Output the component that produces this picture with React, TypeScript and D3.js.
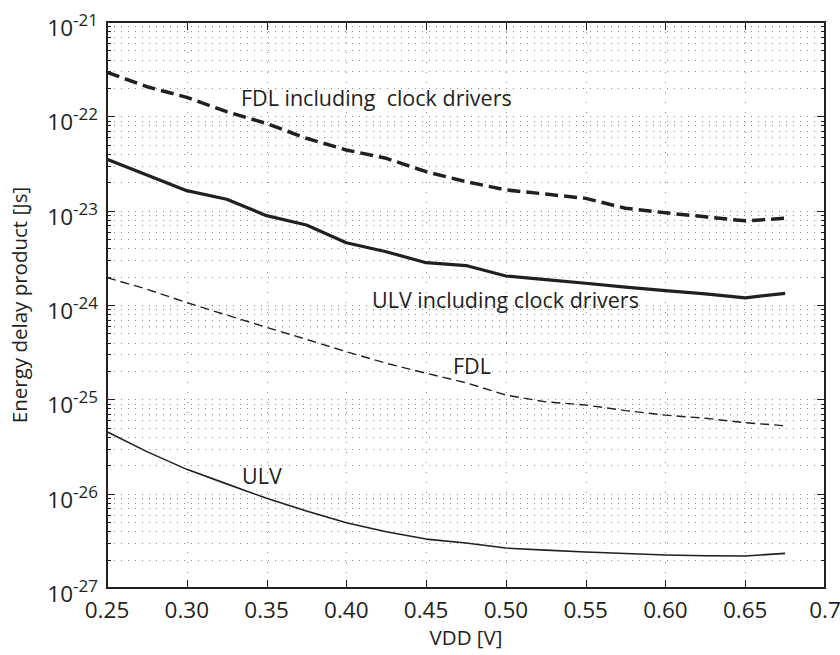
import * as d3 from 'd3';

// supply voltage samples [V]
const vdd = [0.25, 0.275, 0.3, 0.325, 0.35, 0.375, 0.4, 0.425, 0.45, 0.475, 0.5, 0.525, 0.55, 0.575, 0.6, 0.625, 0.65, 0.675];

// energy delay product [Js]
const fdlClock = [2.93e-22, 2.06e-22, 1.59e-22, 1.12e-22, 8.4e-23, 5.85e-23, 4.4e-23, 3.59e-23, 2.59e-23, 2.03e-23, 1.66e-23, 1.5e-23, 1.35e-23, 1.06e-23, 9.5e-24, 8.6e-24, 7.8e-24, 8.3e-24];
const ulvClock = [3.5e-23, 2.39e-23, 1.63e-23, 1.32e-23, 8.85e-24, 7.05e-24, 4.57e-24, 3.67e-24, 2.81e-24, 2.62e-24, 2.03e-24, 1.86e-24, 1.7e-24, 1.55e-24, 1.42e-24, 1.31e-24, 1.19e-24, 1.33e-24];
const fdl = [1.95e-24, 1.47e-24, 1.06e-24, 7.83e-25, 5.8e-25, 4.32e-25, 3.2e-25, 2.41e-25, 1.89e-25, 1.5e-25, 1.11e-25, 9.4e-26, 8.7e-26, 7.6e-26, 6.8e-26, 6.3e-26, 5.65e-26, 5.25e-26];
const ulv = [4.54e-26, 2.79e-26, 1.81e-26, 1.27e-26, 8.93e-27, 6.55e-27, 4.92e-27, 3.95e-27, 3.3e-27, 3.0e-27, 2.65e-27, 2.52e-27, 2.41e-27, 2.32e-27, 2.24e-27, 2.2e-27, 2.18e-27, 2.33e-27];

const xTicks = [0.25, 0.3, 0.35, 0.4, 0.45, 0.5, 0.55, 0.6, 0.65, 0.7];
const xTickLabels = ['0.25', '0.30', '0.35', '0.40', '0.45', '0.50', '0.55', '0.60', '0.65', '0.7'];
const yExponents = [-21, -22, -23, -24, -25, -26, -27];

const W = 840, H = 655;
const left = 107, right = 825, top = 22, bottom = 588;
const font = '"Open Sans", sans-serif';
const ink = '#231f20';

export default function App() {
  const x = d3.scaleLinear().domain([0.25, 0.7]).range([left, right]);
  const y = d3.scaleLog().domain([1e-27, 1e-21]).range([bottom, top]);

  const line = (vals: number[]) =>
    d3.line<number>().x((d, i) => x(vdd[i])).y(d => y(d))(vals) as string;

  // all decade + minor positions
  const logTicks: { v: number; major: boolean }[] = [];
  for (let e = -27; e < -21; e++) {
    for (let m = 1; m < 10; m++) logTicks.push({ v: m * Math.pow(10, e), major: m === 1 });
  }
  logTicks.push({ v: 1e-21, major: true });

  return (
    <svg width={W} height={H} style={{ position: 'absolute', left: 0, top: 0 }} fontFamily={font}>
      <rect width={W} height={H} fill="#fff" />

      {/* grid */}
      <g stroke="#8a8a8a" strokeWidth={1} strokeDasharray="1,6">
        {logTicks.filter(t => t.v > 1e-27 && t.v < 1e-21).map((t, i) => (
          <line key={'h' + i} x1={left} x2={right} y1={Math.round(y(t.v)) + 0.5} y2={Math.round(y(t.v)) + 0.5} />
        ))}
        {xTicks.slice(1, -1).map((t, i) => (
          <line key={'v' + i} x1={Math.round(x(t)) + 0.5} x2={Math.round(x(t)) + 0.5} y1={top} y2={bottom} strokeDasharray="1,9" />
        ))}
      </g>

      {/* ticks */}
      <g stroke={ink} strokeWidth={1}>
        {logTicks.map((t, i) => {
          const yy = Math.round(y(t.v)) + 0.5;
          const len = t.major ? 8 : 4;
          return (
            <g key={'yt' + i}>
              <line x1={left} x2={left + len} y1={yy} y2={yy} />
              <line x1={right} x2={right - len} y1={yy} y2={yy} />
            </g>
          );
        })}
        {xTicks.map((t, i) => {
          const xx = Math.round(x(t)) + 0.5;
          return (
            <g key={'xt' + i}>
              <line x1={xx} x2={xx} y1={bottom} y2={bottom - 8} />
              <line x1={xx} x2={xx} y1={top} y2={top + 8} />
            </g>
          );
        })}
      </g>

      {/* series */}
      <g fill="none" stroke={ink} strokeLinejoin="round">
        <path d={line(fdlClock)} strokeWidth={3.5} strokeDasharray="13,6" />
        <path d={line(ulvClock)} strokeWidth={3.2} />
        <path d={line(fdl)} strokeWidth={1.4} strokeDasharray="9,5" />
        <path d={line(ulv)} strokeWidth={1.6} />
      </g>

      {/* axes box */}
      <rect x={left} y={top} width={right - left} height={bottom - top} fill="none" stroke={ink} strokeWidth={2} />

      {/* tick labels */}
      <g fill={ink} fontSize={22.5}>
        {xTicks.map((t, i) => (
          <text key={'xl' + i} x={x(t)} y={618} textAnchor="middle">{xTickLabels[i]}</text>
        ))}
        {yExponents.map((e, i) => (
          <text key={'yl' + i} x={98} y={y(Math.pow(10, e)) + 14} textAnchor="end">
            10<tspan fontSize={17} dy={-10}>{String(e)}</tspan>
          </text>
        ))}
      </g>

      {/* axis titles */}
      <text x={(left + right) / 2} y={645} textAnchor="middle" fontSize={20.5} fill={ink}>VDD [V]</text>
      <text transform={`translate(27,${(top + bottom) / 2}) rotate(-90)`} textAnchor="middle" fontSize={20.5} fill={ink}>
        Energy delay product [Js]
      </text>

      {/* curve annotations */}
      <g fill={ink} fontSize={21.5}>
        <text x={241} y={106} xmlSpace="preserve">FDL including  clock drivers</text>
        <text x={372} y={308}>ULV including clock drivers</text>
        <text x={453} y={374}>FDL</text>
        <text x={242} y={484}>ULV</text>
      </g>
    </svg>
  );
}
